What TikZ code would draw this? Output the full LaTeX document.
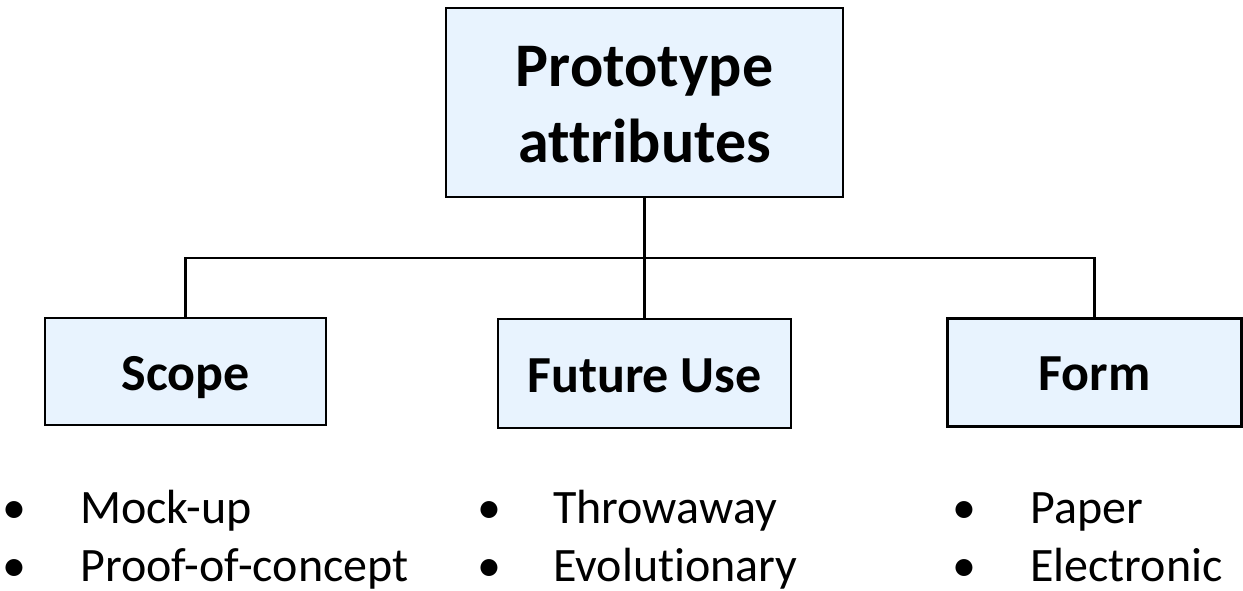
\documentclass[tikz,border=0pt]{standalone}
\usepackage{fontspec}
\setmainfont{Carlito}[Ligatures=NoCommon]
\definecolor{boxfill}{RGB}{232,243,254}
\begin{document}
\begin{tikzpicture}[x=1pt,y=-1pt,
  catbox/.style={draw=black, line width=2.2pt, fill=boxfill, inner sep=0pt},
  boxlabel/.style={anchor=base, inner sep=0pt, font=\bfseries\fontsize{52}{60}\selectfont},
  rootlabel/.style={anchor=base, inner sep=0pt, font=\bfseries\fontsize{62}{76}\selectfont},
  link/.style={draw=black, line width=2.2pt},
  item/.style={anchor=base west, inner sep=0pt, font=\fontsize{48}{58}\selectfont},
  dot/.style={anchor=base, inner sep=0pt, font=\fontsize{48}{58}\selectfont}]
\useasboundingbox (0,0) rectangle (1243,591);

% root box
\node[catbox, minimum width=397pt, minimum height=189pt] (root) at (644.5,102.5) {};
\node[rootlabel] (rootA) at (644.5,87) {Prototype};
\node[rootlabel] (rootB) at (644.5,163) {attributes};

% category boxes
\node[catbox, minimum width=281pt, minimum height=107pt] (scope) at (185.5,371.5) {};
\node[catbox, minimum width=293pt, minimum height=109pt] (future) at (644.5,373.5) {};
\node[catbox, minimum width=294pt, minimum height=108pt] (form) at (1094.5,372.5) {};
\node[boxlabel] (scopeT) at (185.5,390) {Scope};
\node[boxlabel] (futureT) at (644.5,392) {Future Use};
\node[boxlabel] (formT) at (1094.5,390) {Form};

% tree connectors
\coordinate (bar) at (644.5,258);
\draw[link] (root.south) -- (future.north);
\draw[link] (scope.north) |- (bar) -| (form.north);

% bullet lists
\node[dot] (b1) at (14,523) {\textbullet};
\node[item] (s1) at (80,523) {Mock-up};
\node[dot] (b2) at (14,581) {\textbullet};
\node[item] (s2) at (80,581) {Proof-of-concept};

\node[dot] (b3) at (489,523) {\textbullet};
\node[item] (f1) at (553,523) {Throwaway};
\node[dot] (b4) at (489,581) {\textbullet};
\node[item] (f2) at (553,581) {Evolutionary};

\node[dot] (b5) at (964,523) {\textbullet};
\node[item] (m1) at (1030,523) {Paper};
\node[dot] (b6) at (964,581) {\textbullet};
\node[item] (m2) at (1030,581) {Electronic};
\end{tikzpicture}
\end{document}
